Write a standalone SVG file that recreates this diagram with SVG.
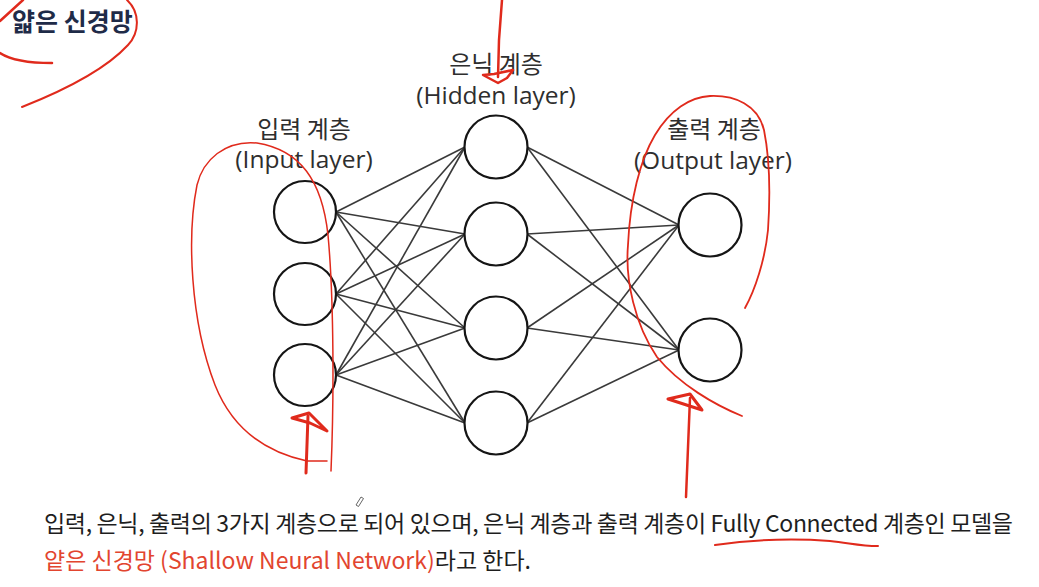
<svg xmlns="http://www.w3.org/2000/svg" width="1039" height="587" viewBox="0 0 1039 587">
<style>
.bg{fill:#ffffff}
.node{fill:#ffffff;stroke:#151515;stroke-width:2.2}
.edge{stroke:#3a3a3a;stroke-width:1.6;fill:none}
.ko{font-family:"Noto Sans CJK KR","Open Sans",sans-serif;font-size:24px;fill:#2e2e2e;text-anchor:middle}
.en{font-family:"Open Sans","Noto Sans CJK KR",sans-serif;font-size:24.5px;fill:#2e2e2e;text-anchor:middle}
.title{font-family:"Noto Sans CJK KR",sans-serif;font-size:25px;font-weight:bold;fill:#1f2b48}
.body{font-family:"Noto Sans CJK KR",sans-serif;font-size:23px;fill:#1e1e1e}
.red{fill:#e2452f}
.ink{fill:none;stroke:#e02a1c;stroke-linecap:round;stroke-linejoin:round}
</style>
<rect class="bg" x="0" y="0" width="1039" height="587"/>

<text class="title" x="12" y="31">얇은 신경망</text>

<g id="connectors">
  <line class="edge" x1="336" y1="212" x2="465" y2="147"/>
  <line class="edge" x1="336" y1="212" x2="465" y2="234"/>
  <line class="edge" x1="336" y1="212" x2="465" y2="328"/>
  <line class="edge" x1="336" y1="212" x2="465" y2="423"/>
  <line class="edge" x1="336" y1="294" x2="465" y2="147"/>
  <line class="edge" x1="336" y1="294" x2="465" y2="234"/>
  <line class="edge" x1="336" y1="294" x2="465" y2="328"/>
  <line class="edge" x1="336" y1="294" x2="465" y2="423"/>
  <line class="edge" x1="336" y1="375" x2="465" y2="147"/>
  <line class="edge" x1="336" y1="375" x2="465" y2="234"/>
  <line class="edge" x1="336" y1="375" x2="465" y2="328"/>
  <line class="edge" x1="336" y1="375" x2="465" y2="423"/>
  <line class="edge" x1="527" y1="147" x2="679" y2="225"/>
  <line class="edge" x1="527" y1="147" x2="679" y2="350"/>
  <line class="edge" x1="527" y1="234" x2="679" y2="225"/>
  <line class="edge" x1="527" y1="234" x2="679" y2="350"/>
  <line class="edge" x1="527" y1="328" x2="679" y2="225"/>
  <line class="edge" x1="527" y1="328" x2="679" y2="350"/>
  <line class="edge" x1="527" y1="423" x2="679" y2="225"/>
  <line class="edge" x1="527" y1="423" x2="679" y2="350"/>
</g>

<g id="input-layer">
  <text class="ko" x="304" y="138">입력 계층</text>
  <text class="en" x="304" y="168">(Input layer)</text>
  <circle id="in1" class="node" cx="305" cy="212" r="31"/>
  <circle id="in2" class="node" cx="305" cy="294" r="31"/>
  <circle id="in3" class="node" cx="305" cy="375" r="31"/>
</g>

<g id="hidden-layer">
  <text class="ko" x="496" y="73">은닉 계층</text>
  <text class="en" x="496" y="104">(Hidden layer)</text>
  <circle id="h1" class="node" cx="496" cy="147" r="31.5"/>
  <circle id="h2" class="node" cx="496" cy="234" r="31.5"/>
  <circle id="h3" class="node" cx="496" cy="328" r="31.5"/>
  <circle id="h4" class="node" cx="496" cy="423" r="31.5"/>
</g>

<g id="output-layer">
  <text class="ko" x="714" y="138">출력 계층</text>
  <text class="en" x="713" y="169">(Output layer)</text>
  <circle id="o1" class="node" cx="710" cy="225" r="31.5"/>
  <circle id="o2" class="node" cx="710" cy="350" r="31.5"/>
</g>

<g id="caption">
  <text class="body" x="44" y="532" textLength="969" lengthAdjust="spacing">입력, 은닉, 출력의 3가지 계층으로 되어 있으며, 은닉 계층과 출력 계층이 Fully Connected 계층인 모델을</text>
  <text class="body" x="44" y="569"><tspan class="red">얕은 신경망 (Shallow Neural Network)</tspan>라고 한다.</text>
</g>

<g id="annotations">
  <path class="ink" stroke-width="2.5" d="M23 0 L0 21"/>
  <path class="ink" stroke-width="2.5" d="M0 53 Q15 63 52 63"/>
  <path class="ink" stroke-width="2" d="M127 0 C140 12 140 32 128 45 C105 70 60 92 22 107"/>
  <path class="ink" stroke-width="2.5" d="M502 0 L499 40 L498 77"/>
  <path class="ink" stroke-width="2.5" d="M483 75 L498 83 L507 78 L513 70 L494 74 Z"/>
  <path class="ink" stroke-width="1.5" d="M331 471 C334 400 334 300 328 235 C322 180 300 150 257 143 C225 140 203 160 197 185 C187 235 190 320 215 385 C232 428 265 452 307 461 L327 461"/>
  <path class="ink" stroke-width="3" d="M306 473 L308 416"/>
  <path class="ink" stroke-width="3" d="M292 418 L309 413 L327 431 L310 423 L292 418"/>
  <path class="ink" stroke-width="1.8" d="M742 416 C715 405 680 385 657 357 C635 325 625 280 628 245 C630 200 640 160 655 135 C670 110 690 97 710 96 C735 95 758 105 764 130 C770 160 770 200 768 230 C765 260 755 290 745 308"/>
  <path class="ink" stroke-width="2.5" d="M686 497 L690 398"/>
  <path class="ink" stroke-width="3" d="M668 399 L690 394 L702 410 L668 399"/>
  <path class="ink" stroke-width="2" d="M715 545 C750 540 790 538 830 541 C850 543 860 546 878 546"/>
  <path fill="none" stroke="#555555" stroke-width="0.9" d="M356 505 L361 497 L363.5 498.5 L358.5 506.5 Z"/>
</g>
</svg>
